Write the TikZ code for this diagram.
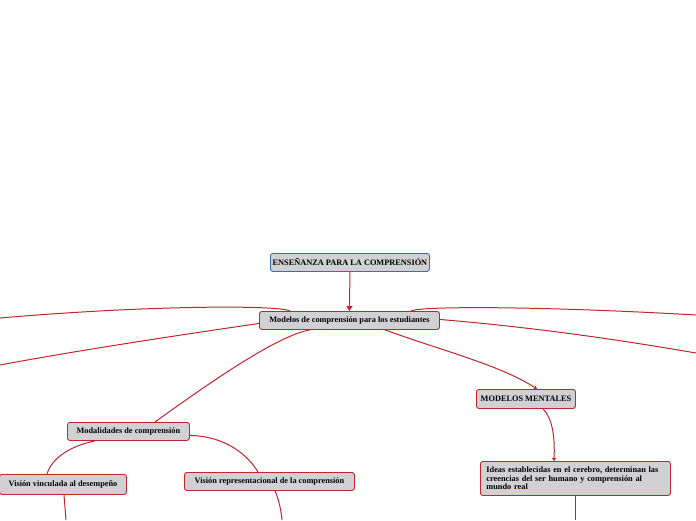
\documentclass[tikz,border=0pt]{standalone}
\usepackage{fontspec}
\setmainfont{Liberation Serif}
\usetikzlibrary{arrows.meta}
\definecolor{boxfill}{HTML}{D1D1D4}
\definecolor{redc}{HTML}{C0252D}
\definecolor{bluec}{HTML}{2F6EC6}
\tikzset{
  box/.style={draw=redc, line width=0.9pt, fill=boxfill, rounded corners=2.5pt, inner sep=0pt, font=\fontsize{8.3}{8.6}\selectfont\bfseries, anchor=north west},
  conn/.style={draw=redc, line width=1pt},
  arr/.style={conn, -{Triangle[length=5pt,width=6pt]}},
  sarr/.style={conn, -{Triangle[length=3pt,width=4pt]}}
}
\begin{document}
\begin{tikzpicture}[x=1pt,y=-1pt]
\useasboundingbox (0,0) rectangle (696,520);
% nodes
\node[box, draw=bluec, minimum width=159pt, minimum height=18pt] (top) at (270,253) {ENSEÑANZA PARA LA COMPRENSIÓN};
\node[box, minimum width=180pt, minimum height=18pt] (mod) at (259,311) {Modelos de comprensión para los estudiantes};
\node[box, minimum width=99pt, minimum height=19pt] (mm) at (476,389) {MODELOS MENTALES};
\node[box, minimum width=190pt, minimum height=34pt, align=left, text width=178pt] (ideas) at (480,461) {Ideas establecidas en el cerebro, determinan las\\ creencias del ser humano y comprensión al\\ mundo real};
\node[box, minimum width=122pt, minimum height=18pt] (mdl) at (67,422) {Modalidades de comprensión};
\node[box, minimum width=127pt, minimum height=20pt] (vv) at (-1,474) {Visión vinculada al desempeño};
\node[box, minimum width=170pt, minimum height=18pt] (vr) at (184,472) {Visión representacional de la comprensión};
% free ends
\coordinate (l1) at (0,318);
\coordinate (l2) at (0,365);
\coordinate (r1) at (696,315);
\coordinate (r2) at (696,353);
\coordinate (b1) at (575,520);
\coordinate (b2) at (66,520);
\coordinate (b3) at (282,520);
% connectors
\draw[arr] (top.south) -- (mod.north);
\draw[conn] ([xshift=31pt]mod.north west) .. controls (280,305) and (150,305) .. (l1);
\draw[conn] ([yshift=-3pt]mod.west) .. controls (180,335) and (80,350) .. (l2);
\draw[conn] ([xshift=-29pt]mod.north east) .. controls (420,306) and (540,306) .. (r1);
\draw[conn] ([yshift=1pt]mod.east) .. controls (540,328) and (620,340) .. (r2);
\draw[conn] ([xshift=51pt]mod.south west) .. controls (280,335) and (220,375) .. ([xshift=88pt]mdl.north west);
\draw[sarr] ([xshift=126pt]mod.south west) .. controls (440,350) and (500,365) .. ([xshift=61pt]mm.north west);
\draw[sarr] ([xshift=67pt]mm.south west) .. controls (552,418) and (555,435) .. ([xshift=74pt]ideas.north west);
\draw[conn] ([xshift=95pt]ideas.south west) -- (b1);
\draw[conn] ([xshift=28pt]mdl.south west) .. controls (70,446) and (52,458) .. ([xshift=48pt]vv.north west);
\draw[conn] ([yshift=-4pt]mdl.east) .. controls (225,436) and (248,455) .. ([xshift=74pt]vr.north west);
\draw[conn] ([xshift=65pt]vv.south west) -- (b2);
\draw[conn] ([xshift=91pt]vr.south west) .. controls (279,500) and (281,510) .. (b3);
\end{tikzpicture}
\end{document}
